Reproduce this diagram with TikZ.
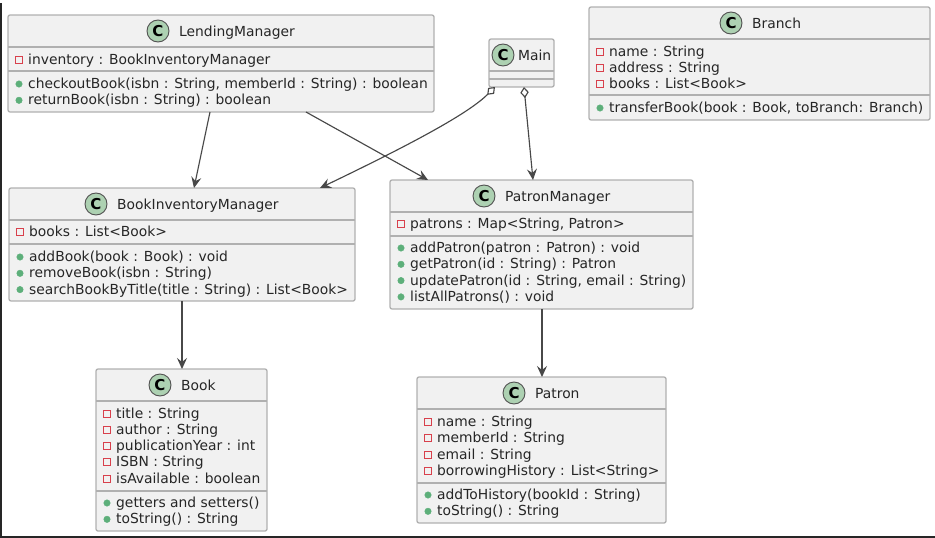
\documentclass[tikz,border=0pt]{standalone}
\usepackage{fontspec}
\setmainfont{DejaVu Sans}
\usetikzlibrary{arrows.meta}
\definecolor{boxfill}{HTML}{F1F1F1}
\definecolor{boxline}{HTML}{B0B0B0}
\definecolor{inkgray}{HTML}{262626}
\definecolor{wiregray}{HTML}{484848}
\definecolor{iconfill}{HTML}{ADD1B2}
\definecolor{privred}{HTML}{D8404C}
\definecolor{pubgreen}{HTML}{5DAF7A}
\tikzstyle{classbox} = [rectangle, rounded corners=2pt, draw=boxline, fill=boxfill, line width=1.3pt, inner sep=0pt, outer sep=0pt]
\tikzstyle{divider} = [draw=boxline, line width=1.2pt]
\tikzstyle{classicon} = [circle, draw=inkgray!80, fill=iconfill, line width=.9pt, minimum size=22pt, inner sep=0pt, font=\fontsize{15}{15}\selectfont\bfseries, text=black]
\tikzstyle{classname} = [anchor=base west, inner sep=0pt, text=inkgray, font=\fontsize{13.85}{14}\selectfont]
\tikzstyle{membertext} = [anchor=base west, inner sep=0pt, text=inkgray, font=\fontsize{13.85}{14}\selectfont]
\tikzstyle{privmark} = [rectangle, draw=privred, fill=boxfill, line width=.9pt, minimum size=7pt, inner sep=0pt]
\tikzstyle{pubmark} = [circle, draw=pubgreen, fill=pubgreen, minimum size=6.5pt, inner sep=0pt]
\tikzstyle{arrow} = [line width=1.15pt, draw=wiregray, -{Stealth[length=11pt,width=10pt,inset=4pt]}]
\tikzstyle{aggregate} = [line width=1.15pt, draw=wiregray, {Diamond[open,length=11pt,width=8.5pt]}-{Stealth[length=11pt,width=10pt,inset=4pt]}]
% box: id, left, top, right, bottom, first divider, second divider
\newcommand{\classframe}[7]{
	\node (#1) [classbox, minimum width={(#4-#2)*1pt}, minimum height={(#5-#3)*1pt}] at ({(#2+#4)/2},{(#3+#5)/2}) {};
	\draw [divider] (#2,#6) -- (#4,#6);
	\draw [divider] (#2,#7) -- (#4,#7);
}
% members: id, style of the mark, x of the mark, first baseline, texts
\newcommand{\memberlist}[5]{
	\foreach \txt [count=\i from 0] in {#5} {
		\node (#1mark\i) [#2] at (#3,{#4+16.3*\i-4.5}) {};
		\node (#1text\i) [membertext] at (#3+9,{#4+16.3*\i}) {\txt};
	}
}
\begin{document}
\begin{tikzpicture}[x=1pt,y=-1pt]
\useasboundingbox (0,0) rectangle (935,538);
\fill [inkgray] (0,3) rectangle (1.5,538);
\fill [black!85] (0,536) rectangle (935,538);

\classframe{lending}{8}{15}{434}{112}{47}{71}
\node (lendingicon) [classicon] at (158,31) {C};
\node (lendingname) [classname] at (179,36) {LendingManager};
\memberlist{lendingf}{privmark}{19}{64}{inventory : BookInventoryManager}
\memberlist{lendingm}{pubmark}{19}{88.5}{{checkoutBook(isbn : String, memberId : String) : boolean},{returnBook(isbn : String) : boolean}}

\classframe{mainc}{489}{39}{554}{87}{71}{79}
\node (mainicon) [classicon] at (503,55) {C};
\node (mainname) [classname] at (518,60) {Main};

\classframe{branch}{589}{7}{930}{120}{39}{95}
\node (branchicon) [classicon] at (731,23) {C};
\node (branchname) [classname] at (752,28) {Branch};
\memberlist{branchf}{privmark}{600}{56}{{name : String},{address : String},{books : List<Book>}}
\memberlist{branchm}{pubmark}{600}{112.5}{{transferBook(book : Book, toBranch: Branch)}}

\classframe{inventory}{9}{188}{355}{301}{220}{244}
\node (inventoryicon) [classicon] at (96,204) {C};
\node (inventoryname) [classname] at (117,209) {BookInventoryManager};
\memberlist{inventoryf}{privmark}{20}{236.5}{{books : List<Book>}}
\memberlist{inventorym}{pubmark}{20}{261.5}{{addBook(book : Book) : void},{removeBook(isbn : String)},{searchBookByTitle(title : String) : List<Book>}}

\classframe{patrons}{390}{180}{693}{309}{212}{236}
\node (patronsicon) [classicon] at (484,196) {C};
\node (patronsname) [classname] at (505,201) {PatronManager};
\memberlist{patronsf}{privmark}{401}{228.5}{{patrons : Map<String, Patron>}}
\memberlist{patronsm}{pubmark}{401}{252.5}{{addPatron(patron : Patron) : void},{getPatron(id : String) : Patron},{updatePatron(id : String, email : String)},{listAllPatrons() : void}}

\classframe{book}{96}{369}{267}{531}{401}{491}
\node (bookicon) [classicon] at (160,385) {C};
\node (bookname) [classname] at (181,390) {Book};
\memberlist{bookf}{privmark}{107}{418}{{title : String},{author : String},{publicationYear : int},{ISBN : String},{isAvailable : boolean}}
\memberlist{bookm}{pubmark}{107}{507.5}{{getters and setters()},{toString() : String}}

\classframe{patron}{417}{377}{666}{523}{409}{483}
\node (patronicon) [classicon] at (514,393) {C};
\node (patronname) [classname] at (535,398) {Patron};
\memberlist{patronf}{privmark}{428}{426.5}{{name : String},{memberId : String},{email : String},{borrowingHistory : List<String>}}
\memberlist{patronm}{pubmark}{428}{499.5}{{addToHistory(bookId : String)},{toString() : String}}

\draw [arrow] ([xshift=202pt]lending.south west) -- ([xshift=185pt]inventory.north west);
\draw [arrow] ([xshift=298pt]lending.south west) -- ([xshift=38pt]patrons.north west);
\draw [aggregate] ([xshift=6pt]mainc.south west) .. controls (470,112) and (420,140) .. ([xshift=311pt]inventory.north west);
\draw [aggregate] ([xshift=35pt]mainc.south west) -- ([xshift=143pt]patrons.north west);
\draw [arrow] ([xshift=173pt]inventory.south west) -- ([xshift=86pt]book.north west);
\draw [arrow] ([xshift=152pt]patrons.south west) -- ([xshift=125pt]patron.north west);
\end{tikzpicture}
\end{document}
